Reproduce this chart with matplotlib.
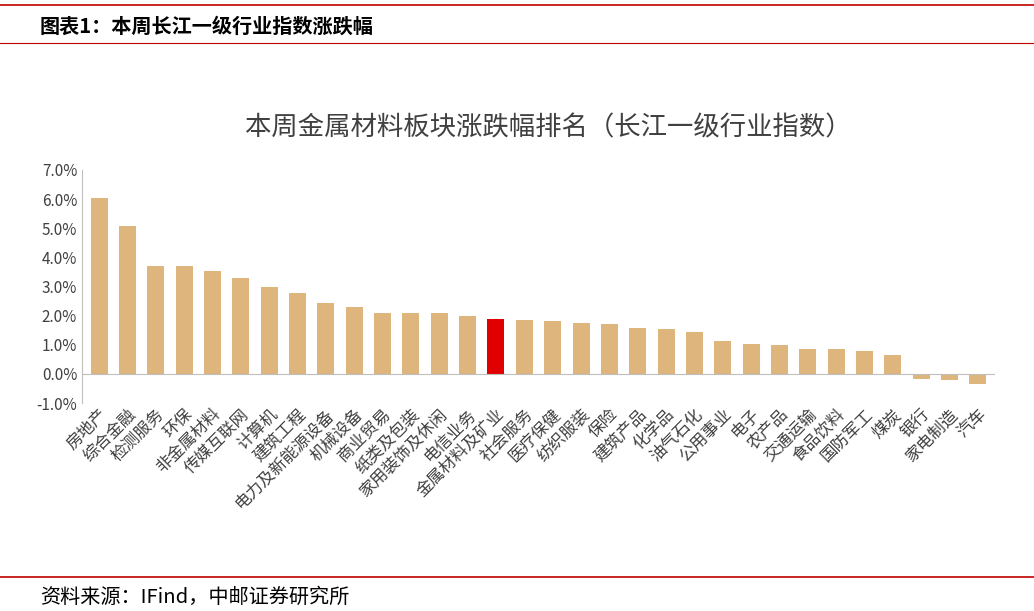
import matplotlib
matplotlib.use("Agg")
import matplotlib.pyplot as plt
from matplotlib.ticker import FuncFormatter

plt.rcParams['font.family'] = ['Noto Sans CJK SC', 'DejaVu Sans']

categories = ["房地产","综合金融","检测服务","环保","非金属材料","传媒互联网","计算机","建筑工程",
              "电力及新能源设备","机械设备","商业贸易","纸类及包装","家用装饰及休闲","电信业务",
              "金属材料及矿业","社会服务","医疗保健","纺织服装","保险","建筑产品","化学品","油气石化",
              "公用事业","电子","农产品","交通运输","食品饮料","国防军工","煤炭","银行","家电制造","汽车"]
values = [6.05,5.08,3.72,3.72,3.52,3.28,2.99,2.78,2.42,2.30,2.08,2.08,2.08,1.97,1.88,1.84,1.80,
          1.76,1.72,1.56,1.55,1.43,1.14,1.02,0.98,0.87,0.86,0.78,0.65,-0.18,-0.22,-0.35]
highlight = "金属材料及矿业"

fig = plt.figure(figsize=(10.34, 6.11), dpi=100)
W, H = 1034, 611
fig.add_artist(plt.Line2D([0, 1], [1-5/H, 1-5/H], color='#C00000', lw=1.2))
fig.add_artist(plt.Line2D([0, 1], [1-43/H, 1-43/H], color='#C00000', lw=0.8))
fig.add_artist(plt.Line2D([0, 1], [1-577/H, 1-577/H], color='#C00000', lw=1.2))
fig.text(40/W, 1-26/H, "图表1：本周长江一级行业指数涨跌幅", fontsize=14.5, fontweight='bold', va='center')
fig.text(40/W, 1-597/H, "资料来源：IFind，中邮证券研究所", fontsize=14.5, va='center')

ax = fig.add_axes([82/W, 1-403/H, (995-82)/W, (403-170)/H])
colors = ['#E00000' if c == highlight else '#DDB57D' for c in categories]
x = range(len(categories))
ax.bar(x, values, width=0.6, color=colors)
ax.set_ylim(-1, 7)
ax.set_yticks([-1,0,1,2,3,4,5,6,7])
ax.yaxis.set_major_formatter(FuncFormatter(lambda v, p: f"{v:.1f}%"))
ax.set_xlim(-0.6, len(categories)-0.4)
ax.set_xticks(list(x))
ax.set_xticklabels(categories, rotation=45, ha='right', rotation_mode='anchor', fontsize=12, color='#404040')
ax.tick_params(axis='x', length=0, pad=2)
ax.tick_params(axis='y', labelsize=11, labelcolor='#404040', length=0)
ax.axhline(0, color='#BFBFBF', lw=0.8)
for s in ax.spines.values():
    s.set_visible(False)
ax.spines['left'].set_visible(True)
ax.spines['left'].set_color('#BFBFBF')
fig.text(0.53, 1-128/H, "本周金属材料板块涨跌幅排名（长江一级行业指数）", fontsize=19, color='#404040',
         ha='center', va='center')
fig.savefig("out.png", dpi=100)
